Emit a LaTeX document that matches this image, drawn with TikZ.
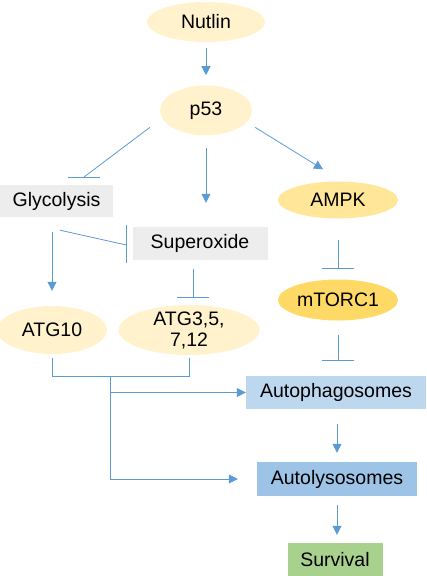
\documentclass[tikz,border=0pt]{standalone}
\usepackage{fontspec}
\setmainfont{Liberation Sans}
\usetikzlibrary{positioning, calc, arrows.meta, shapes.geometric}
\definecolor{linjeblaa}{HTML}{5B9BD5}
\definecolor{gulLys}{HTML}{FFF2CC}
\definecolor{gulMid}{HTML}{FFE699}
\definecolor{gulMork}{HTML}{FFD966}
\definecolor{graaLys}{HTML}{EDEDED}
\definecolor{blaaLys}{HTML}{BDD7EE}
\definecolor{blaaMid}{HTML}{9DC3E6}
\definecolor{gronn}{HTML}{A9D18E}
\tikzset{
    %Define style for ovals
    oval/.style={
           ellipse,
           fill=gulLys,
           inner sep=0pt,
           minimum width=118pt,
           minimum height=40pt,
           align=center,
           font=\fontsize{19.5}{21}\selectfont},
    %Define style for boxes
    boks/.style={
           rectangle,
           inner sep=0pt,
           minimum height=33pt,
           text centered,
           font=\fontsize{19.5}{21}\selectfont},
    % Define line styles
    linje/.style={
           draw=linjeblaa,
           line width=0.8pt},
    pil/.style={
           linje,
           -{Triangle[length=9pt,width=9pt]}},
    hemm/.style={
           linje,
           -{Bar[width=32pt]}}
}
\begin{document}
\begin{tikzpicture}[x=1pt, y=1pt]
	\useasboundingbox (0,0) rectangle (426,-576);
	%
	% noder
	%
	\node[oval] (nutlin) at (206,-22) {Nutlin};
	\node[oval, minimum width=92pt, minimum height=50pt, below=43pt of nutlin] (p53) {p53};
	\node[boks, fill=graaLys, minimum width=113pt, minimum height=32pt] (glyc) at (56.5,-201) {Glycolysis};
	\node[boks, fill=graaLys, minimum width=135pt] (superox) at (200,-243.5) {Superoxide};
	\node[oval, fill=gulMid, minimum width=120pt, minimum height=37pt] (ampk) at (338,-200) {AMPK};
	\node[oval, fill=gulMork, minimum width=120pt, minimum height=41pt] (mtorc) at (338,-300) {mTORC1};
	\node[oval, minimum width=110pt, minimum height=48pt] (atg10) at (52,-330) {ATG10};
	\node[oval, minimum width=141pt, minimum height=50pt, inner ysep=-3pt] (atg3) at (189,-330) {ATG3,5,\\7,12};
	\node[boks, fill=blaaLys, minimum width=180pt] (autoph) at (336,-392.5) {Autophagosomes};
	\node[boks, fill=blaaMid, minimum width=160pt, minimum height=34pt] (autoly) at (337,-479) {Autolysosomes};
	\node[boks, fill=gronn, minimum width=95pt, minimum height=34pt] (surv) at (335,-560) {Survival};
	%
	% hjelpepunkter
	%
	\coordinate (gbar) at (84,-177);
	\coordinate (obar) at ($(superox.west)+(-6,-1.5)$);
	\coordinate (brak) at (110,-376);
	%
	% lenker
	%
	\draw[pil, shorten <=6pt, shorten >=10pt] (nutlin) -- (p53);
	\draw[linje] ($(p53.west)+(-10,-17)$) -- (gbar);
	\draw[linje] ($(gbar)+(-16,0)$) -- ($(gbar)+(16,0)$);
	\draw[pil, shorten <=12pt, shorten >=24pt] (p53.south) -- (p53.south |- superox.north);
	\draw[pil] ($(p53.east)+(3,-17)$) -- ($(ampk.north)+(-15,12)$);
	\draw[linje] ($(glyc.south)+(3.5,-13)$) -- (obar);
	\draw[linje] ($(obar)+(0,20)$) -- ($(obar)+(0,-18)$);
	\draw[pil, shorten <=15pt, shorten >=15pt] (atg10.north |- glyc.south) -- (atg10.north);
	\draw[hemm, shorten <=9pt, shorten >=7pt] ($(atg3.north |- superox.south)+(4,0)$) -- ($(atg3.north)+(4,0)$);
	\draw[hemm, shorten <=21pt, shorten >=10.5pt] (ampk.south) -- (mtorc.north);
	\draw[hemm, shorten <=14.5pt, shorten >=15pt] (mtorc.south) -- (mtorc.south |- autoph.north);
	\draw[linje] ([yshift=-4pt]atg10.south) -- ++(0,-18) -| ([yshift=-3pt]atg3.south);
	\draw[pil] (brak) |- (autoph.west);
	\draw[pil] (brak) |- ([xshift=-19pt]autoly.west);
	\draw[pil, shorten <=15pt, shorten >=9pt] (autoly.north |- autoph.south) -- (autoly.north);
	\draw[pil, shorten <=9pt, shorten >=8pt] (autoly.south) -- (autoly.south |- surv.north);
\end{tikzpicture}
\end{document}
